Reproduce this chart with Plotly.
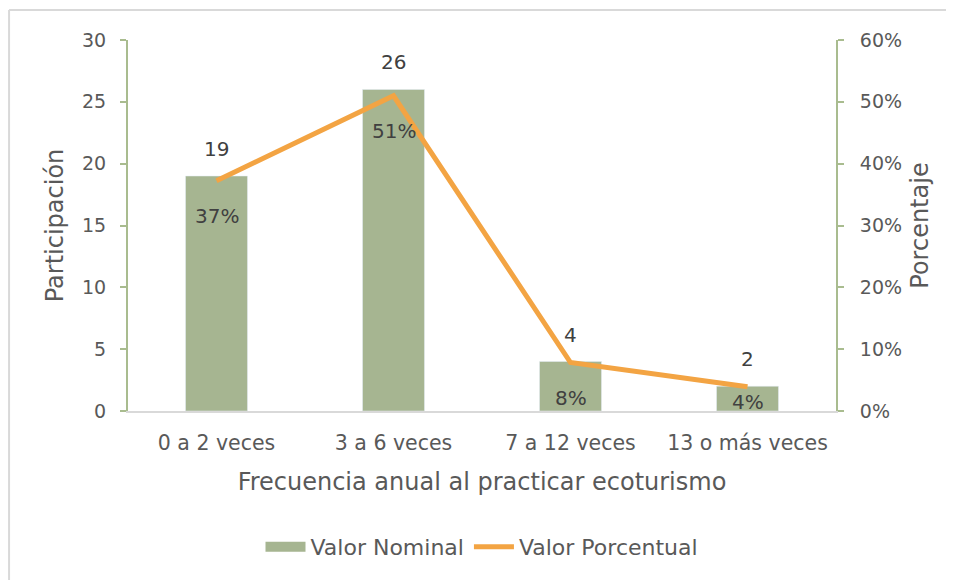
import plotly.graph_objects as go

categorias = ["0 a 2 veces", "3 a 6 veces", "7 a 12 veces", "13 o más veces"]
valor_nominal = [19, 26, 4, 2]
valor_porcentual = [0.3725, 0.5098, 0.0784, 0.0392]
etiquetas_pct = ["37%", "51%", "8%", "4%"]

font_fam = "DejaVu Sans, sans-serif"
gris = "#595959"
verde = "#A6B591"
naranja = "#F3A443"

fig = go.Figure()
fig.add_trace(go.Bar(
    x=categorias, y=valor_nominal, name="Valor Nominal",
    marker_color=verde, width=0.35, showlegend=False,
))
# entrada de leyenda con simbolo rectangular ancho
fig.add_trace(go.Scatter(
    x=[None], y=[None], name="Valor Nominal", mode="lines",
    line=dict(color=verde, width=10),
))
fig.add_trace(go.Scatter(
    x=categorias, y=valor_porcentual, name="Valor Porcentual",
    yaxis="y2", mode="lines", line=dict(color=naranja, width=5),
))

alto_plot = 371
annotations = []
for c, v in zip(categorias, valor_nominal):
    annotations.append(dict(x=c, y=v, xref="x", yref="y", text=str(v),
                            showarrow=False, yshift=27,
                            font=dict(size=20, color="#404040", family=font_fam)))
for c, p, t in zip(categorias, valor_porcentual, etiquetas_pct):
    desplaz = min(35, p / 0.6 * alto_plot - 9)
    annotations.append(dict(x=c, y=p, xref="x", yref="y2", text=t,
                            showarrow=False, yshift=-desplaz,
                            font=dict(size=20, color="#404040", family=font_fam)))

borde = dict(color="#D9D9D9", width=2)

fig.update_layout(
    width=954, height=580,
    margin=dict(l=120, r=126, t=32, b=177),
    paper_bgcolor="white", plot_bgcolor="white",
    font=dict(family=font_fam, color=gris, size=20),
    showlegend=True,
    legend=dict(orientation="h", x=0.5, xanchor="center", y=-0.31, yanchor="top",
                font=dict(size=22, color=gris), itemwidth=40, tracegroupgap=0),
    xaxis=dict(
        title=dict(text="Frecuencia anual al practicar ecoturismo", font=dict(size=24, color=gris), standoff=20),
        showline=True, linecolor="#D9D9D9", linewidth=2, ticks="",
        tickfont=dict(size=20.5, color=gris), ticklabelstandoff=12,
    ),
    yaxis=dict(
        title=dict(text="Participación", font=dict(size=24, color=gris), standoff=12),
        range=[0, 30], dtick=5, showgrid=False, zeroline=False,
        showline=True, linecolor="#A9BC8F", linewidth=2,
        ticks="outside", tickcolor="#A9BC8F", ticklen=6, tickwidth=2,
        tickfont=dict(size=19, color=gris), ticklabelstandoff=10,
    ),
    yaxis2=dict(
        title=dict(text="Porcentaje", font=dict(size=24, color=gris), standoff=10),
        overlaying="y", side="right",
        range=[0, 0.6], dtick=0.1, tickformat=".0%", showgrid=False, zeroline=False,
        showline=True, linecolor="#A9BC8F", linewidth=2,
        ticks="outside", tickcolor="#A9BC8F", ticklen=6, tickwidth=2,
        tickfont=dict(size=19, color=gris), ticklabelstandoff=12,
    ),
    annotations=annotations,
    shapes=[
        dict(type="line", xref="paper", yref="paper", x0=-0.168, x1=1.3,
             y0=1.081, y1=1.081, line=borde, layer="below"),
        dict(type="line", xref="paper", yref="paper", x0=-0.168, x1=-0.168,
             y0=-0.5, y1=1.081, line=borde, layer="below"),
    ],
)

fig.write_html("out.html")
